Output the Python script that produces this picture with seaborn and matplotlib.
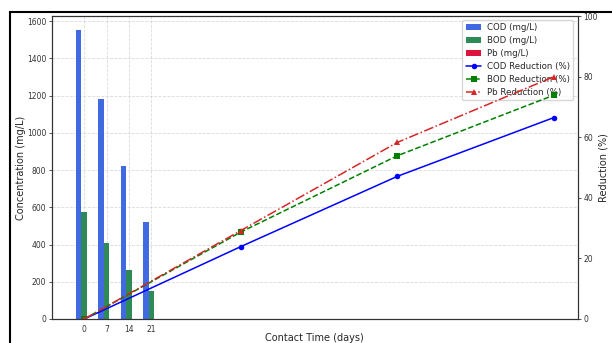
import matplotlib
matplotlib.use("Agg")
import matplotlib.pyplot as plt
import seaborn as sns
import pandas as pd
from matplotlib.patches import Rectangle

days = [0, 7, 14, 21]
day_labels = ["0", "7", "14", "21"]
cod = [1550, 1180, 820, 520]
bod = [575, 410, 265, 150]
pb = [2.4, 1.7, 1.0, 0.48]
cod_red = [0, 23.9, 47.1, 66.5]
bod_red = [0, 28.7, 53.9, 73.9]
pb_red = [0, 29.2, 58.3, 80.0]

sns.set_style("white")
plt.rcParams['font.family'] = ['DejaVu Sans']

fig = plt.figure(figsize=(6.12, 3.43), dpi=100)
L, R, T, B = 52, 578, 16, 319
ax = fig.add_axes([L/612, 1-B/343, (R-L)/612, (B-T)/343])

rows = []
for lbl, c, b, p in zip(day_labels, cod, bod, pb):
    rows.append((lbl, "COD (mg/L)", c))
    rows.append((lbl, "BOD (mg/L)", b))
    rows.append((lbl, "Pb (mg/L)", p))
df = pd.DataFrame(rows, columns=["day", "param", "value"])

sns.barplot(data=df, x="day", y="value", hue="param", ax=ax, width=0.75,
            palette=["#4169E1", "#2E8B57", "#DC143C"], saturation=1,
            errorbar=None, order=day_labels, edgecolor="none", linewidth=0)

ax2 = ax.twinx()
sns.lineplot(x=days, y=cod_red, ax=ax2, color="blue", marker="o", linestyle="-",
             markersize=4, markeredgewidth=0, linewidth=1.1, label="COD Reduction (%)")
sns.lineplot(x=days, y=bod_red, ax=ax2, color="green", marker="s", linestyle="--",
             markersize=4, markeredgewidth=0, linewidth=1.1, label="BOD Reduction (%)")
sns.lineplot(x=days, y=pb_red, ax=ax2, color="#d62728", marker="^", linestyle="-.",
             markersize=4, markeredgewidth=0, linewidth=1.1, label="Pb Reduction (%)")

ax.set_xlim(-1.44, 22.07)
ax.set_ylim(0, 1627)
ax2.set_ylim(0, 100)
ax.set_xticks([0, 1, 2, 3])
ax.set_xticklabels(day_labels)
ax2.set_yticks([0, 20, 40, 60, 80, 100])

ax.grid(True, linestyle="--", color="#cccccc", linewidth=0.6, alpha=0.7)
ax.set_axisbelow(True)

for a in (ax, ax2):
    a.tick_params(labelsize=5.5, length=2.5, width=0.6, pad=1.5,
                  direction="out", colors="#333333")
    for s in a.spines.values():
        s.set_color("#333333")
        s.set_linewidth(0.8)

ax.set_xlabel("Contact Time (days)", fontsize=7)
ax.set_ylabel("Concentration (mg/L)", fontsize=7)
ax2.set_ylabel("Reduction (%)", fontsize=7)
W, H = R - L, B - T
ax.xaxis.set_label_coords(((265 + 363) / 2 - L) / W, (B - 333) / H)
ax.yaxis.set_label_coords((26 - L) / W, 0.5)
ax2.yaxis.set_label_coords((598 - L) / W, 0.5)

h1, l1 = ax.get_legend_handles_labels()
h2, l2 = ax2.get_legend_handles_labels()
if ax2.get_legend():
    ax2.get_legend().remove()
ax.legend(h1 + h2, l1 + l2, loc="upper right", fontsize=6.2, framealpha=0.8,
          handlelength=1.8, handletextpad=0.6, borderaxespad=0, labelspacing=0.45,
          borderpad=0.4, bbox_to_anchor=((573 - L) / W, (B - 20) / H))

fig.patches.append(Rectangle((10/612, -0.1), 1.2, 1.1 - 12/343, transform=fig.transFigure,
                             fill=False, edgecolor="black", linewidth=1.5, figure=fig))

fig.savefig("out.png", dpi=100)
